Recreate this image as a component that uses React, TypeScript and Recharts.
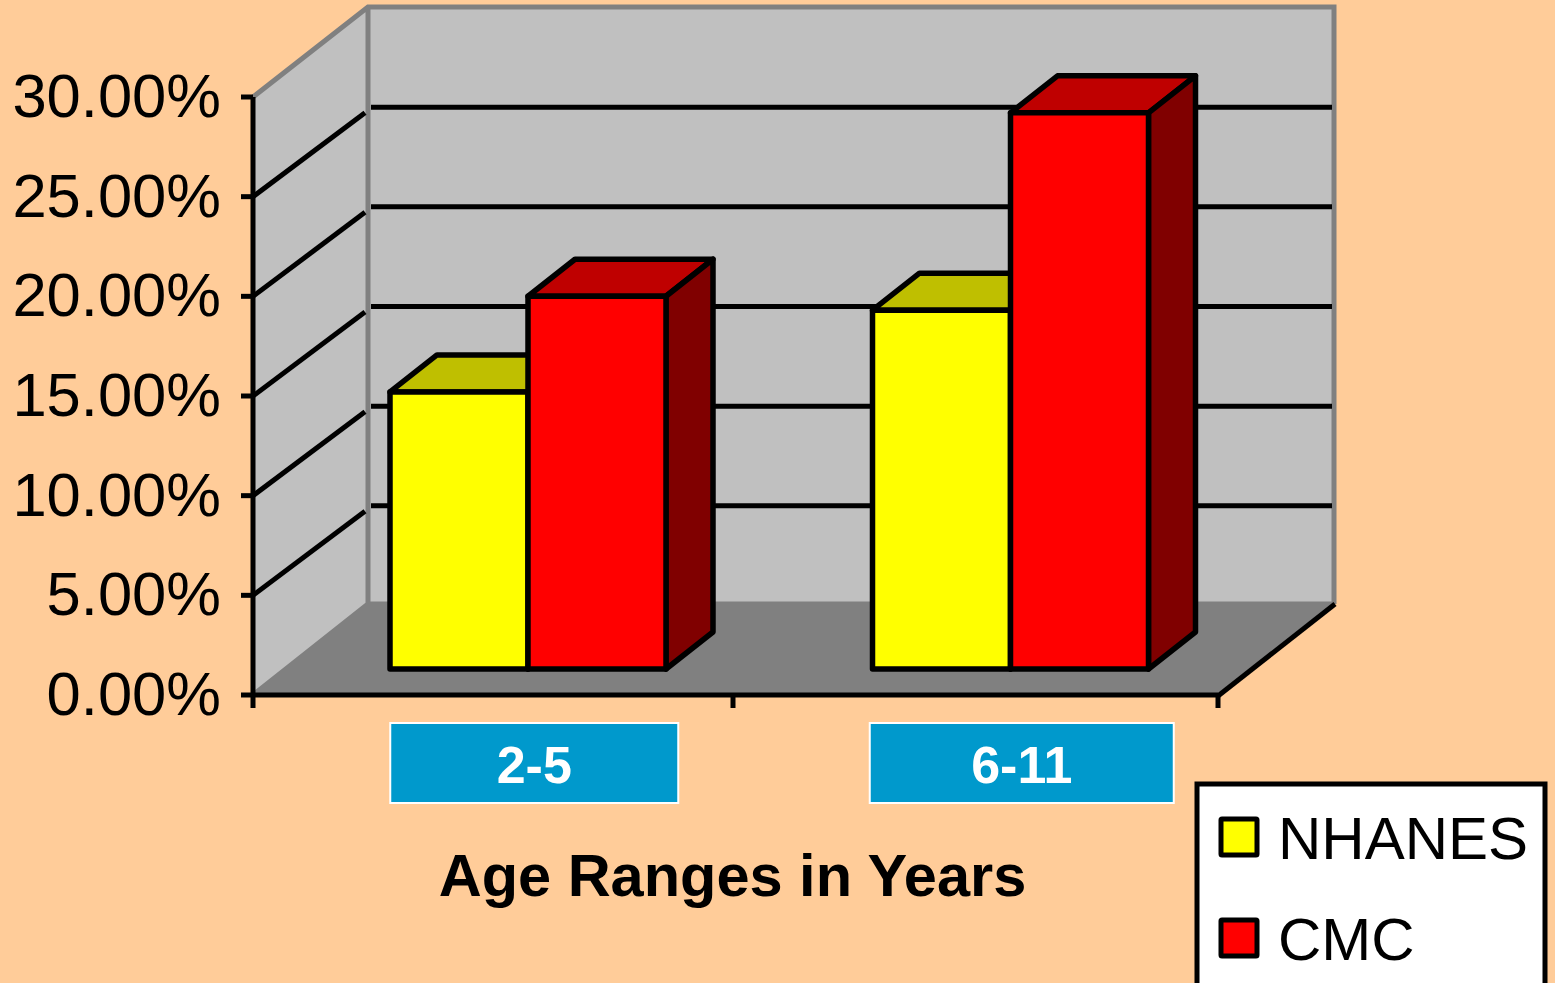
import React from "react";
import { BarChart, Bar, XAxis, YAxis, CartesianGrid, Label, Customized } from "recharts";

const categories = ["2-5", "6-11"];
const nhanesValues = [13.9, 18.0];
const cmcValues = [18.7, 27.9];
const yTicks = [0, 5, 10, 15, 20, 25, 30];
const seriesNames = ["NHANES", "CMC"];
const seriesColors = ["#FFFF00", "#FF0000"];
const xAxisTitle = "Age Ranges in Years";

const chartData = categories.map((age, i) => ({
  age,
  NHANES: nhanesValues[i],
  CMC: cmcValues[i],
}));

const FONT = '"Liberation Sans", Arial, sans-serif';
const boxWidths = [288, 304];
const boxCenterOffsets = [40, 45];

// walls and floor of the fake 3D box
const Walls = ({ index }: any) => {
  if (index !== 0) return null;
  return (
    <g>
      <polygon points="253,97 368,7 368,604 253,695" fill="#C0C0C0" stroke="#808080" strokeWidth={2} />
      <polygon points="368,7 1334,7 1334,604 368,604" fill="#C0C0C0" />
      <polygon points="253,695 368,604 1334,604 1218,695" fill="#808080" />
      <path d="M253,97 L368,7 L1334,7 L1334,604 M368,7 L368,604 L253,695 M368,604 L1334,604" fill="none" stroke="#808080" strokeWidth={5} />
      <line x1={1218} y1={696} x2={1335} y2={604} stroke="#000" strokeWidth={5} />
    </g>
  );
};

// gridline runs along the side wall then across the back wall
const GridLine = ({ y1 }: any) => {
  if (y1 < 100 || y1 > 690) return null;
  return (
    <g stroke="#000" strokeWidth={5} fill="none">
      <line x1={253} y1={y1} x2={365} y2={y1 - 84} />
      <line x1={371} y1={y1 - 89.5} x2={1332} y2={y1 - 89.5} />
    </g>
  );
};

const Bar3D = ({ x, y, width, height, fill }: any) => {
  const left = x + 34;
  const right = left + width;
  const top = y - 26;
  const bottom = top + height;
  const dx = 47;
  const dy = 37;
  const isRed = fill === "#FF0000";
  return (
    <g stroke="#000" strokeWidth={5.5} strokeLinejoin="round">
      <polygon points={`${left},${top} ${left + dx},${top - dy} ${right + dx},${top - dy} ${right},${top}`} fill={isRed ? "#BF0000" : "#BFBF00"} />
      <polygon points={`${right},${top} ${right + dx},${top - dy} ${right + dx},${bottom - dy} ${right},${bottom}`} fill={isRed ? "#800000" : "#808000"} />
      <rect x={left} y={top} width={width} height={height} fill={fill} />
    </g>
  );
};

const YTick = ({ x, y, payload }: any) => (
  <g>
    <line x1={241} y1={y} x2={253} y2={y} stroke="#000" strokeWidth={5} />
    <text x={221} y={y + 20} textAnchor="end" fontFamily={FONT} fontSize={61.5} fill="#000">
      {`${payload.value.toFixed(2)}%`}
    </text>
  </g>
);

const XTick = ({ x, payload, index }: any) => {
  const half = 241.25;
  const cx = x + boxCenterOffsets[index];
  const w = boxWidths[index];
  // the middle tick sits a little left of the band edge in the source
  const tickXs = index === 0 ? [x - half, x + half - 2.5] : [x + half];
  return (
    <g>
      {tickXs.map((tx) => (
        <line key={tx} x1={tx} y1={695} x2={tx} y2={708} stroke="#000" strokeWidth={5} />
      ))}
      <rect x={cx - w / 2} y={723} width={w} height={80} fill="#0099CC" stroke="#FFF" strokeWidth={2} />
      <text x={cx} y={783} textAnchor="middle" fontFamily={FONT} fontWeight="bold" fontSize={52} fill="#FFF">
        {payload.value}
      </text>
    </g>
  );
};

const LegendBox = () => (
  <g>
    <rect x={1197} y={784} width={348} height={260} fill="#FFF" stroke="#000" strokeWidth={5} />
    {seriesNames.map((name, i) => (
      <g key={name}>
        <rect x={1221} y={819 + i * 101} width={36} height={36} fill={seriesColors[i]} stroke="#000" strokeWidth={5} rx={1} />
        <text x={1278} y={859 + i * 101} fontFamily={FONT} fontSize={60} fill="#000">
          {name}
        </text>
      </g>
    ))}
  </g>
);

export default function App() {
  return (
    <div style={{ position: "absolute", left: 0, top: 0, width: 1555, height: 983, background: "#FFCC99", overflow: "hidden" }}>
      <BarChart
        width={1555}
        height={983}
        data={chartData}
        margin={{ top: 97, right: 337, bottom: 0, left: 0 }}
        barSize={138}
        barGap={0}
      >
        <CartesianGrid horizontal={(props: any) => <Walls {...props} />} vertical={false} />
        <CartesianGrid horizontal={(props: any) => <GridLine {...props} />} vertical={false} />
        <XAxis
          dataKey="age"
          height={288}
          axisLine={{ stroke: "#000", strokeWidth: 5 }}
          tickLine={false}
          tick={<XTick />}
          interval={0}
        >
          <Label
            value={xAxisTitle}
            position="insideBottom"
            offset={87}
            dx={-3}
            style={{ fontFamily: FONT, fontWeight: "bold", fontSize: 59.5, fill: "#000" }}
          />
        </XAxis>
        <YAxis
          width={253}
          domain={[0, 30]}
          ticks={yTicks}
          axisLine={{ stroke: "#000", strokeWidth: 5 }}
          tickLine={false}
          tick={<YTick />}
          interval={0}
        />
        <Bar dataKey="NHANES" fill={seriesColors[0]} shape={<Bar3D />} isAnimationActive={false} />
        <Bar dataKey="CMC" fill={seriesColors[1]} shape={<Bar3D />} isAnimationActive={false} />
        <Customized component={<LegendBox />} />
      </BarChart>
    </div>
  );
}
